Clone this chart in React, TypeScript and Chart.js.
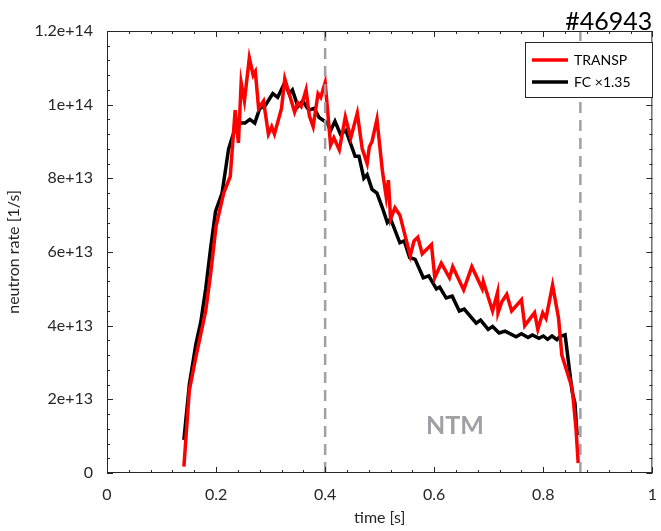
import { Chart, registerables } from "chart.js";
import React, { useEffect, useRef } from "react";

Chart.register(...registerables);

// TRANSP neutron rate, units of 1e13 /s
const transpT = [0.141, 0.151, 0.163, 0.181, 0.19, 0.2, 0.214, 0.226, 0.235, 0.241, 0.246, 0.252, 0.261, 0.268, 0.272, 0.278, 0.287, 0.296, 0.302, 0.307, 0.32, 0.326, 0.334, 0.344, 0.35, 0.356, 0.365, 0.371, 0.378, 0.387, 0.392, 0.4, 0.41, 0.416, 0.426, 0.437, 0.447, 0.459, 0.468, 0.477, 0.481, 0.486, 0.495, 0.505, 0.512, 0.516, 0.52, 0.528, 0.537, 0.556, 0.563, 0.57, 0.578, 0.595, 0.601, 0.613, 0.628, 0.634, 0.654, 0.669, 0.688, 0.69, 0.707, 0.716, 0.717, 0.724, 0.733, 0.742, 0.76, 0.766, 0.784, 0.79, 0.799, 0.805, 0.817, 0.828, 0.834, 0.853, 0.86, 0.864];
const transpY = [0.17, 2.25, 3.15, 4.4, 5.4, 6.7, 7.6, 8.05, 9.85, 8.96, 10.6, 10.1, 11.27, 10.8, 10.9, 9.9, 10.1, 9.2, 9.4, 9.2, 9.9, 10.7, 10.3, 9.8, 10.05, 9.95, 10.4, 9.7, 9.4, 10.3, 10.2, 10.6, 8.9, 9.1, 8.77, 9.67, 9.1, 9.77, 8.8, 8.4, 8.85, 9.0, 9.6, 8.2, 7.5, 7.95, 6.9, 7.2, 7.0, 5.9, 6.3, 6.4, 5.95, 6.2, 5.3, 5.7, 5.3, 5.6, 4.97, 5.6, 5.0, 5.2, 4.4, 4.9, 4.35, 4.65, 4.85, 4.4, 4.7, 4.0, 4.35, 3.9, 4.35, 4.2, 5.1, 4.2, 3.2, 2.3, 1.2, 0.27];

// FC x 1.35 neutron rate, units of 1e13 /s
const fcT = [0.141, 0.151, 0.163, 0.172, 0.181, 0.19, 0.199, 0.211, 0.223, 0.238, 0.253, 0.262, 0.271, 0.28, 0.289, 0.304, 0.313, 0.326, 0.334, 0.34, 0.35, 0.359, 0.37, 0.38, 0.389, 0.404, 0.41, 0.418, 0.428, 0.438, 0.455, 0.462, 0.471, 0.477, 0.486, 0.495, 0.505, 0.514, 0.52, 0.537, 0.545, 0.555, 0.565, 0.58, 0.59, 0.604, 0.61, 0.622, 0.633, 0.646, 0.655, 0.677, 0.685, 0.699, 0.707, 0.719, 0.73, 0.75, 0.76, 0.772, 0.78, 0.792, 0.8, 0.808, 0.816, 0.825, 0.83, 0.84, 0.853, 0.858, 0.862];
const fcY = [0.9, 2.4, 3.5, 4.1, 5.0, 6.1, 7.1, 7.6, 8.8, 9.5, 9.5, 9.6, 9.5, 9.9, 9.95, 10.3, 10.2, 10.6, 10.3, 10.4, 9.95, 10.1, 9.85, 9.9, 9.65, 9.5, 9.3, 9.55, 9.2, 9.3, 8.6, 8.6, 8.0, 8.1, 7.7, 7.6, 7.2, 6.8, 6.9, 6.25, 6.3, 5.85, 5.8, 5.3, 5.35, 5.0, 5.05, 4.75, 4.8, 4.4, 4.45, 4.07, 4.15, 3.9, 3.98, 3.8, 3.85, 3.7, 3.78, 3.68, 3.75, 3.66, 3.72, 3.63, 3.72, 3.62, 3.7, 3.75, 2.2, 1.9, 1.03];

const markerTimes = [0.4, 0.868];
const xTicks = [0, 0.2, 0.4, 0.6, 0.8, 1];
const yTicks = [0, 2, 4, 6, 8, 10, 12];
const yTickLabels = ["0", "2e+13", "4e+13", "6e+13", "8e+13", "1e+14", "1.2e+14"];

const FONT = "Lato, 'DejaVu Sans', sans-serif";

const App: React.FC = () => {
  const canvasRef = useRef<HTMLCanvasElement | null>(null);

  useEffect(() => {
    document.body.style.margin = "0";
    if (!canvasRef.current) return;
    const ctx = canvasRef.current.getContext("2d");
    if (!ctx) return;

    const pts = (t: number[], y: number[]) => t.map((x, i) => ({ x, y: y[i] * 1e13 }));

    const decor = {
      id: "decor",
      afterDraw(chart: Chart) {
        const { ctx: c, chartArea: a, scales } = chart;
        const xs = scales.x;
        const ys = scales.y;
        c.save();
        c.strokeStyle = "#262626";
        c.lineWidth = 1;
        c.strokeRect(a.left + 0.5, a.top + 0.5, a.right - a.left - 1, a.bottom - a.top - 1);
        // inward ticks
        c.beginPath();
        for (let v = 0; v <= 1.0001; v += 0.04) {
          const px = Math.round(xs.getPixelForValue(v)) + 0.5;
          const major = Math.abs(v / 0.2 - Math.round(v / 0.2)) < 1e-6;
          const len = major ? 6 : 3;
          c.moveTo(px, a.bottom);
          c.lineTo(px, a.bottom - len);
          c.moveTo(px, a.top);
          c.lineTo(px, a.top + len);
        }
        for (let v = 0; v <= 12.0001; v += 0.4) {
          const py = Math.round(ys.getPixelForValue(v * 1e13)) + 0.5;
          const major = Math.abs(v / 2 - Math.round(v / 2)) < 1e-6;
          const len = major ? 6 : 3;
          c.moveTo(a.left, py);
          c.lineTo(a.left + len, py);
          c.moveTo(a.right, py);
          c.lineTo(a.right - len, py);
        }
        c.stroke();

        // title
        c.fillStyle = "#000";
        c.font = `25px ${FONT}`;
        c.textAlign = "right";
        c.textBaseline = "bottom";
        c.fillText("#46943", a.right, a.top + 3);

        // NTM label
        c.fillStyle = "#a0a0a4";
        c.font = `bold 25px ${FONT}`;
        c.textAlign = "center";
        c.textBaseline = "middle";
        c.fillText("NTM", xs.getPixelForValue(0.638), ys.getPixelForValue(1.28e13));

        // legend
        const lx = 525, ly = 42, lw = 127, lh = 55;
        c.fillStyle = "#fff";
        c.fillRect(lx, ly, lw, lh);
        c.lineWidth = 1;
        c.strokeStyle = "#262626";
        c.strokeRect(lx + 0.5, ly + 0.5, lw, lh);
        c.lineWidth = 3.5;
        c.strokeStyle = "#ff0000";
        c.beginPath();
        c.moveTo(532, 60);
        c.lineTo(568, 60);
        c.stroke();
        c.strokeStyle = "#000";
        c.beginPath();
        c.moveTo(532, 82);
        c.lineTo(568, 82);
        c.stroke();
        c.fillStyle = "#000";
        c.font = `14px ${FONT}`;
        c.textAlign = "left";
        c.fillText("TRANSP", 574, 60);
        c.fillText("FC \u00d71.35", 574, 82);
        c.restore();
      },
    };

    const chart = new Chart(ctx, {
      type: "line",
      data: {
        datasets: [
          ...markerTimes.map((t) => ({
            data: [
              { x: t, y: 0 },
              { x: t, y: 1.2e14 },
            ],
            borderColor: "#a0a0a4",
            borderWidth: 2.5,
            borderDash: [11, 7],
            pointRadius: 0,
          })),
          {
            data: pts(transpT, transpY),
            borderColor: "#ff0000",
            borderWidth: 3.5,
            pointRadius: 0,
            tension: 0,
          },
          {
            data: pts(fcT, fcY),
            borderColor: "#000000",
            borderWidth: 3.5,
            pointRadius: 0,
            tension: 0,
          },
        ],
      },
      options: {
        animation: false,
        responsive: false,
        layout: { padding: { left: 0, top: 31, right: 2, bottom: 0 } },
        plugins: { legend: { display: false }, tooltip: { enabled: false } },
        scales: {
          x: {
            type: "linear",
            min: 0,
            max: 1,
            afterFit: (s: any) => {
              s.height = 58;
            },
            afterBuildTicks: (s: any) => {
              s.ticks = xTicks.map((value) => ({ value }));
            },
            grid: { display: false },
            border: { display: false },
            ticks: {
              color: "#262626",
              font: { family: FONT, size: 16 },
              padding: 4,
              callback: (v: any) => String(Number(v)),
            },
            title: {
              display: true,
              text: "time [s]",
              color: "#262626",
              font: { family: FONT, size: 16 },
              padding: { top: 0 },
            },
          },
          y: {
            type: "linear",
            min: 0,
            max: 1.2e14,
            afterFit: (s: any) => {
              s.width = 107;
            },
            afterBuildTicks: (s: any) => {
              s.ticks = yTicks.map((v) => ({ value: v * 1e13 }));
            },
            grid: { display: false },
            border: { display: false },
            ticks: {
              color: "#262626",
              font: { family: FONT, size: 16 },
              padding: 6,
              callback: (v: any) => yTickLabels[yTicks.indexOf(Math.round(Number(v) / 1e13))] ?? "",
            },
            title: {
              display: true,
              text: "neutron rate [1/s]",
              color: "#262626",
              font: { family: FONT, size: 16 },
              padding: { bottom: 4 },
            },
          },
        },
      },
      plugins: [decor],
    });

    return () => chart.destroy();
  }, []);

  return (
    <div style={{ width: 661, height: 531, background: "#fff" }}>
      <canvas ref={canvasRef} width={661} height={531} />
    </div>
  );
};

export default App;
